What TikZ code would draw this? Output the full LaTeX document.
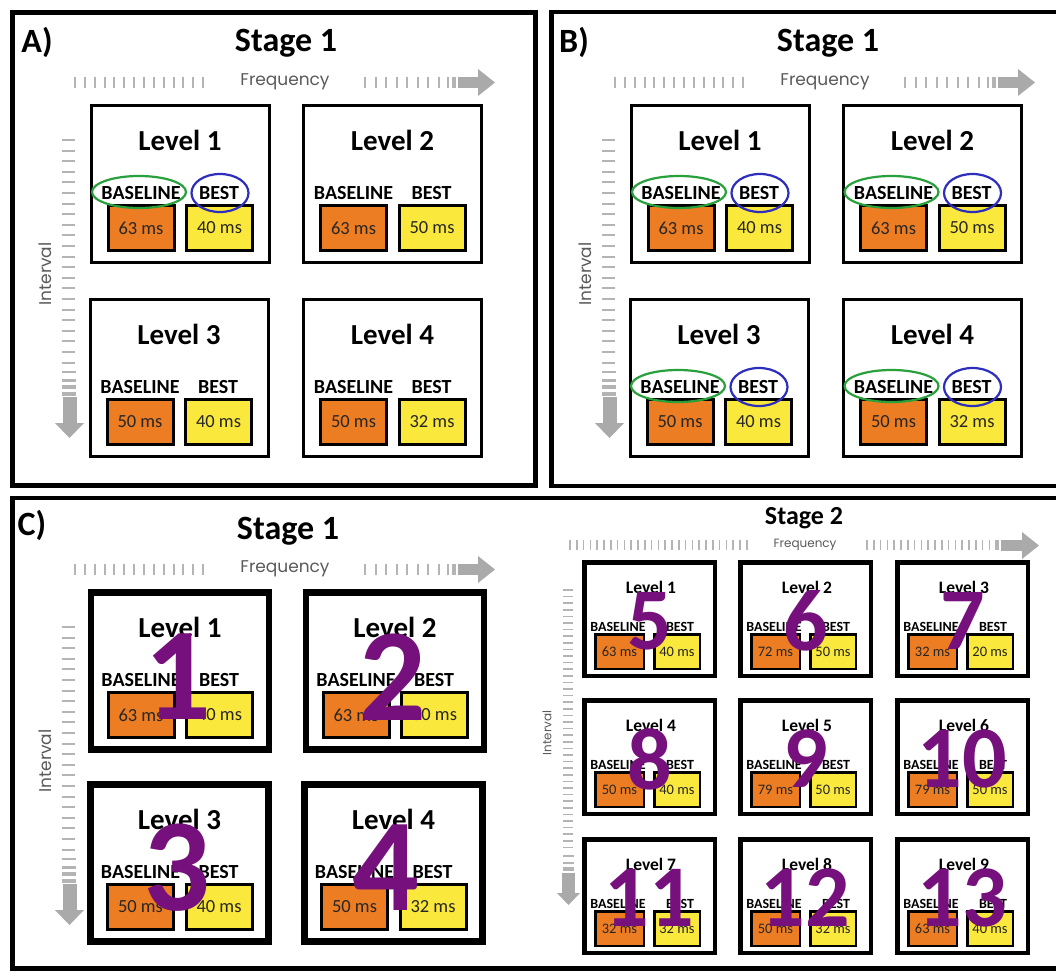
\documentclass[tikz,border=0pt]{standalone}
\usepackage{fontspec}
\setmainfont{Carlito}
\newfontfamily\freqfont{Poppins}
\usetikzlibrary{shapes.geometric}
\definecolor{myorange}{RGB}{237,125,35}
\definecolor{myyellow}{RGB}{250,232,60}
\definecolor{mypurple}{RGB}{118,16,125}
\definecolor{tickgray}{RGB}{180,180,180}
\definecolor{arrgray}{RGB}{170,170,170}
\definecolor{txtgray}{RGB}{90,90,90}
\definecolor{elgreen}{RGB}{40,160,60}
\definecolor{elblue}{RGB}{45,45,190}
\tikzset{
  panel/.style={draw=black, line width=4.5pt},
  lvlbox/.style={draw=black, fill=white, minimum width=178, minimum height=157, inner sep=0pt},
  lvtitle/.style={inner sep=0pt, font=\fontsize{29}{29}\selectfont\bfseries},
  lbl/.style={inner sep=0pt, font=\fontsize{20}{20}\selectfont\bfseries},
  obox/.style={draw=black, line width=3pt, fill=myorange, minimum width=66, minimum height=45, inner sep=0pt, font=\fontsize{18.5}{18.5}\selectfont, text=black!85},
  ybox/.style={obox, fill=myyellow},
  greenell/.style={draw=elgreen, line width=2.2pt, ellipse, minimum width=94, minimum height=32, inner sep=0pt},
  blueell/.style={draw=elblue, line width=2.2pt, ellipse, minimum width=57, minimum height=38, inner sep=0pt},
  tk/.style={draw=tickgray, line width=2pt},
  tks/.style={draw=tickgray, line width=1.5pt},
  arr/.style={fill=arrgray},
  freq/.style={inner sep=0pt, font=\freqfont\fontsize{17}{17}\selectfont, text=txtgray},
  freqs/.style={inner sep=0pt, font=\freqfont\fontsize{12}{12}\selectfont, text=txtgray},
  stagetitle/.style={inner sep=0pt, font=\fontsize{34}{34}\selectfont\bfseries},
  stagetwo/.style={inner sep=0pt, font=\fontsize{26}{26}\selectfont\bfseries},
  bignum/.style={inner sep=0pt, text=mypurple, font=\fontsize{132}{132}\selectfont\bfseries},
  lvlboxs/.style={draw=black, fill=white, line width=4.5pt, minimum width=130.5, minimum height=113.5, inner sep=0pt},
  lvtitles/.style={inner sep=0pt, font=\fontsize{17.5}{17.5}\selectfont\bfseries},
  lbls/.style={inner sep=0pt, font=\fontsize{14}{14}\selectfont\bfseries},
  oboxs/.style={draw=black, line width=2.5pt, fill=myorange, minimum width=48.5, minimum height=34.5, inner sep=0pt, font=\fontsize{14.5}{14.5}\selectfont, text=black!85},
  yboxs/.style={oboxs, fill=myyellow, minimum width=45.5},
  bignums/.style={inner sep=0pt, text=mypurple, font=\fontsize{88}{88}\selectfont\bfseries},
}
% stage-1 level box: name, left, top, line width, level, baseline, best
\newcommand\LvlOne[7]{%
  \node[lvlbox, line width=#4] (#1) at ({#2+90},{#3+80}) {};
  \node[lvtitle] (#1-t) at ({#2+90},{#3+36.5}) {Level #5};
  \node[lbl] (#1-a) at ({#2+51},{#3+89}) {BASELINE};
  \node[lbl] (#1-b) at ({#2+129},{#3+89}) {BEST};
  \node[obox] (#1-o) at ({#2+51},{#3+124}) {#6 ms};
  \node[ybox] (#1-y) at ({#2+129.5},{#3+124}) {#7 ms};
}
% ellipses: name, left, top
\newcommand\EllPair[3]{%
  \node[greenell] (#1-ge) at ({#2+49},{#3+88}) {};
  \node[blueell] (#1-be) at ({#2+130},{#3+89}) {};
}
% frequency row and interval column for stage 1: name, dx, dy
\newcommand\AxesOne[3]{%
  \begin{scope}[shift={(#2,#3)}]
    \foreach \i in {0,...,13} \draw[tk] ({75+\i*9.85},77) -- ++(0,11);
    \node[freq] (#1-freq) at (285,82) {Frequency};
    \foreach \i in {0,...,7} \draw[tk] ({365+\i*10.5},77) -- ++(0,11);
    \draw[tk, line width=2.6pt] (448,77) -- ++(0,11);
    \draw[tk, line width=3.4pt] (454,77) -- ++(0,11);
    \fill[arr] (458,77) rectangle (478,88);
    \fill[arr] (478,69) -- (495,82.5) -- (478,96) -- cycle;
    \foreach \i in {0,...,21} \draw[tk] (62,{140+\i*10.6}) -- ++(13,0);
    \draw[tk, line width=2.6pt] (62,372) -- ++(14,0);
    \draw[tk, line width=3pt] (62,380) -- ++(14,0);
    \draw[tk, line width=3.5pt] (62,387) -- ++(14,0);
    \draw[tk, line width=4pt] (62,394) -- ++(14,0);
    \fill[arr] (62.5,397) rectangle (76.5,423);
    \fill[arr] (55,423) -- (84,423) -- (69.5,438) -- cycle;
    \node[freq, rotate=90] (#1-int) at (45,274) {Interval};
  \end{scope}
}
% stage-2 level box: name, left, top, level, baseline, best, number
\newcommand\LvlTwo[7]{%
  \node[lvlboxs] (#1) at ({#2+67.5},{#3+59}) {};
  \node[lvtitles] (#1-t) at ({#2+69},{#3+27}) {Level #4};
  \node[lbls] (#1-a) at ({#2+36},{#3+67}) {BASELINE};
  \node[lbls] (#1-b) at ({#2+98},{#3+67}) {BEST};
  \node[oboxs] (#1-o) at ({#2+37.5},{#3+91.5}) {#5 ms};
  \node[yboxs] (#1-y) at ({#2+95},{#3+91.5}) {#6 ms};
  \node[bignums] (#1-n) at ({#2+67.5},{#3+61}) {#7};
}
\begin{document}
\begin{tikzpicture}[x=1pt,y=-1pt]
\useasboundingbox (0,0) rectangle (1056,971);
\clip (0,0) rectangle (1056,971);
\fill[white] (0,0) rectangle (1056,971);

% ---------------- Panel A ----------------
\draw[panel] (12.5,12.5) rectangle (535.5,485.5);
\node[stagetitle] (A-lab) at (37,42) {A)};
\node[stagetitle] (A-st) at (286,43) {Stage 1};
\AxesOne{A}{0}{0}
\LvlOne{A1}{90}{104}{3pt}{1}{63}{40}
\LvlOne{A2}{302.5}{104}{3pt}{2}{63}{50}
\LvlOne{A3}{89}{298}{3pt}{3}{50}{40}
\LvlOne{A4}{302.5}{298}{3pt}{4}{50}{32}
\EllPair{A1}{90}{104}

% ---------------- Panel B ----------------
\draw[panel] (551.5,12) rectangle (1075,486);
\node[stagetitle] (B-lab) at (574,42) {B)};
\node[stagetitle] (B-st) at (828,43) {Stage 1};
\AxesOne{B}{540}{0}
\LvlOne{B1}{630}{104}{3pt}{1}{63}{40}
\LvlOne{B2}{842.5}{104}{3pt}{2}{63}{50}
\LvlOne{B3}{629}{298}{3pt}{3}{50}{40}
\LvlOne{B4}{842.5}{298}{3pt}{4}{50}{32}
\EllPair{B1}{630}{104}
\EllPair{B2}{842.5}{104}
\EllPair{B3}{629}{298}
\EllPair{B4}{842.5}{298}

% ---------------- Panel C ----------------
\draw[panel] (12.5,498) rectangle (1075,968.5);
\node[stagetitle] (C-lab) at (32,525) {C)};
\node[stagetitle] (C-st) at (288,531) {Stage 1};
\AxesOne{C}{0}{487}
\LvlOne{C1}{90}{591}{6.5pt}{1}{63}{40}
\LvlOne{C2}{305}{591}{6.5pt}{2}{63}{50}
\LvlOne{C3}{89.5}{783}{6.5pt}{3}{50}{40}
\LvlOne{C4}{303.5}{783}{6.5pt}{4}{50}{32}
\node[bignum] (C-n1) at (178,677) {1};
\node[bignum] (C-n2) at (393,677) {2};
\node[bignum] (C-n3) at (177,868) {3};
\node[bignum] (C-n4) at (386,868) {4};

% Stage 2
\node[stagetwo] (S2-st) at (804,518) {Stage 2};
\foreach \i in {0,...,26} \draw[tks] ({570+\i*6.8},540) -- ++(0,10);
\node[freqs] (S2-freq) at (805,545) {Frequency};
\foreach \i in {0,...,19} \draw[tks] ({867+\i*6.8},540) -- ++(0,10);
\draw[tks, line width=2.5pt] (998,540) -- ++(0,10);
\fill[arr] (1001,540) rectangle (1022,551);
\fill[arr] (1022,532) -- (1039,545.5) -- (1022,559) -- cycle;
\foreach \i in {0,...,39} \draw[tks] (563,{590+\i*6.6}) -- ++(10,0);
\draw[tks, line width=2.2pt] (563,856) -- ++(11,0);
\draw[tks, line width=2.8pt] (563,863) -- ++(11,0);
\draw[tks, line width=3.4pt] (563,869) -- ++(11,0);
\fill[arr] (562,873) rectangle (575,893);
\fill[arr] (557,893) -- (580,893) -- (568.5,905) -- cycle;
\node[freqs, rotate=90] (S2-int) at (547,733) {Interval};

\LvlTwo{S1}{582}{560}{1}{63}{40}{5}
\LvlTwo{S2}{738}{560}{2}{72}{50}{6}
\LvlTwo{S3}{895}{560}{3}{32}{20}{7}
\LvlTwo{S4}{582}{698}{4}{50}{40}{8}
\LvlTwo{S5}{738}{698}{5}{79}{50}{9}
\LvlTwo{S6}{895}{698}{6}{79}{50}{10}
\LvlTwo{S7}{582}{837}{7}{32}{32}{11}
\LvlTwo{S8}{738}{837}{8}{50}{32}{12}
\LvlTwo{S9}{895}{837}{9}{63}{40}{13}
\end{tikzpicture}
\end{document}
